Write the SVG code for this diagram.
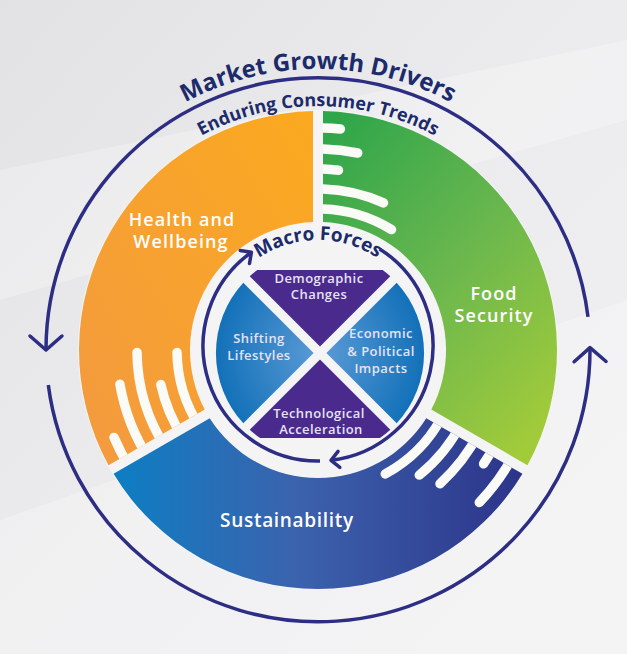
<svg xmlns="http://www.w3.org/2000/svg" width="627" height="654" viewBox="0 0 627 654">
<defs>
<style>
.lbl{font-family:"Open Sans","Noto Sans","DejaVu Sans",sans-serif;font-weight:600;fill:#FFFFFF;text-anchor:middle;font-size:18px;letter-spacing:1.1px}
.q{font-family:"Open Sans","Noto Sans","DejaVu Sans",sans-serif;font-weight:600;fill:#E6E2F4;text-anchor:middle;font-size:13px;letter-spacing:0.45px}
.navy{font-family:"Open Sans","Noto Sans","DejaVu Sans",sans-serif;fill:#1C2B6B}
.arc{fill:none;stroke:#2D2E83;stroke-width:3.5}
.stripe{fill:none;stroke:#FAFAF7;stroke-width:9.5;stroke-linecap:round}
</style>
<linearGradient id="bg" x1="0" y1="0" x2="1" y2="1">
<stop offset="0" stop-color="#E2E2E4"/>
<stop offset="0.5" stop-color="#ECECEE"/>
<stop offset="1" stop-color="#F1F1F2"/>
</linearGradient>
<linearGradient id="gOrange" x1="1" y1="0" x2="0" y2="1">
<stop offset="0" stop-color="#FBA91F"/>
<stop offset="1" stop-color="#F39A40"/>
</linearGradient>
<linearGradient id="gGreen" x1="0.1" y1="0" x2="0.8" y2="1">
<stop offset="0" stop-color="#2FA64A"/>
<stop offset="0.5" stop-color="#6AB74E"/>
<stop offset="1" stop-color="#A2CB3A"/>
</linearGradient>
<linearGradient id="gBlue" x1="0" y1="0" x2="1" y2="0">
<stop offset="0" stop-color="#0D7EC3"/>
<stop offset="0.45" stop-color="#3C62AD"/>
<stop offset="1" stop-color="#2C3489"/>
</linearGradient>
<radialGradient id="gQ" cx="320" cy="353" r="104" gradientUnits="userSpaceOnUse">
<stop offset="0" stop-color="#5C9BD6"/>
<stop offset="1" stop-color="#1371B9"/>
</radialGradient>
<marker id="chevL" viewBox="-20 -20 24 40" refX="0" refY="0" markerWidth="24" markerHeight="40" markerUnits="userSpaceOnUse" orient="auto">
<path d="M-14,-16 L0,0 L-14,16" fill="none" stroke="#2D2E83" stroke-width="3.5" stroke-linecap="round" stroke-linejoin="round"/>
</marker>
<marker id="chevS" viewBox="-12 -12 14 24" refX="0" refY="0" markerWidth="14" markerHeight="24" markerUnits="userSpaceOnUse" orient="auto">
<path d="M-8,-8 L0,0 L-8,8" fill="none" stroke="#2D2E83" stroke-width="3.5" stroke-linecap="round" stroke-linejoin="round"/>
</marker>
<clipPath id="cOrange"><path d="M313,111.05 A239,239 0 0 0 108.57,465.14 L204.73,409.62 A128,128 0 0 1 313,222.1 Z"/></clipPath>
<clipPath id="cGreen"><path d="M323,111.05 A239,239 0 0 1 527.43,465.14 L431.27,409.62 A128,128 0 0 0 323,222.1 Z"/></clipPath>
<clipPath id="cBlue"><path d="M522.43,473.8 A239,239 0 0 1 113.57,473.8 L209.73,418.28 A128,128 0 0 0 426.27,418.28 Z"/></clipPath>
<path id="tpMarket" d="M37,350 A281,281 0 0 1 599,350"/>
<path id="tpEnduring" d="M74,350 A244,244 0 0 1 562,350"/>
<path id="tpMacro" d="M212,346 A106,106 0 0 1 424,346"/>
</defs>

<rect width="627" height="654" fill="url(#bg)"/>
<polygon points="0,170 627,40 627,120 0,300" fill="#FFFFFF" opacity="0.25"/>
<polygon points="0,520 627,300 627,654 0,654" fill="#FFFFFF" opacity="0.25"/>
<circle cx="318" cy="350" r="240" fill="#F4F4F5"/>

<g id="health-and-wellbeing">
<path d="M313,111.05 A239,239 0 0 0 108.57,465.14 L204.73,409.62 A128,128 0 0 1 313,222.1 Z" fill="url(#gOrange)"/>
<g clip-path="url(#cOrange)">
<path class="stripe" d="M131.8,470.9 A222,222 0 0 1 114.0,437.4"/>
<path class="stripe" d="M149.4,459.5 A201,201 0 0 1 119.9,384.2"/>
<path class="stripe" d="M166.2,448.6 A181,181 0 0 1 137.0,352.5"/>
<path class="stripe" d="M183.0,437.7 A161,161 0 0 1 160.8,384.6"/>
<path class="stripe" d="M199.7,426.8 A141,141 0 0 1 177.0,352.5"/>
</g>
<text class="lbl" x="182" y="226">Health and</text>
<text class="lbl" x="181" y="248">Wellbeing</text>
</g>

<g id="food-security">
<path d="M323,111.05 A239,239 0 0 1 527.43,465.14 L431.27,409.62 A128,128 0 0 0 323,222.1 Z" fill="url(#gGreen)"/>
<g clip-path="url(#cGreen)">
<path class="stripe" d="M306.4,128.3 A222,222 0 0 1 340.4,129.1"/>
<path class="stripe" d="M307.5,149.3 A201,201 0 0 1 357.7,153.0"/>
<path class="stripe" d="M308.5,169.25 A181,181 0 0 1 338.5,170.2"/>
<path class="stripe" d="M309.6,189.2 A161,161 0 0 1 383.5,202.9"/>
<path class="stripe" d="M310.6,209.2 A141,141 0 0 1 391.5,229.6"/>
</g>
<text class="lbl" x="494" y="300">Food</text>
<text class="lbl" x="494" y="322">Security</text>
</g>

<g id="sustainability">
<path d="M522.43,473.8 A239,239 0 0 1 113.57,473.8 L209.73,418.28 A128,128 0 0 0 426.27,418.28 Z" fill="url(#gBlue)"/>
<g clip-path="url(#cBlue)">
<path class="stripe" d="M443.6,414.0 A141,141 0 0 1 385.3,473.9"/>
<path class="stripe" d="M461.5,423.1 A161,161 0 0 1 419.3,475.1"/>
<path class="stripe" d="M479.3,432.2 A181,181 0 0 1 440.0,483.7"/>
<path class="stripe" d="M497.1,441.3 A201,201 0 0 1 483.6,463.8"/>
<path class="stripe" d="M515.8,450.8 A222,222 0 0 1 479.3,502.5"/>
</g>
<text class="lbl" x="287" y="527" style="font-size:19px;letter-spacing:0.7px">Sustainability</text>
</g>

<g id="demographic-changes">
<path d="M257.3,270 L382.7,270 A104,104 0 0 1 390.3,276.3 L320,346.6 L249.7,276.3 A104,104 0 0 1 257.3,270 Z" fill="#4A2A8C"/>
<text class="q" x="319" y="283">Demographic</text>
<text class="q" x="319" y="299">Changes</text>
</g>
<g id="shifting-lifestyles">
<path d="M313.6,353 L243.3,282.7 A104,104 0 0 0 243.3,423.3 Z" fill="url(#gQ)"/>
<text class="q" x="259" y="343">Shifting</text>
<text class="q" x="259" y="360">Lifestyles</text>
</g>
<g id="economic-political-impacts">
<path d="M326.4,353 L396.7,282.7 A104,104 0 0 1 396.7,423.3 Z" fill="url(#gQ)"/>
<text class="q" x="381" y="338">Economic</text>
<text class="q" x="381" y="356">&amp; Political</text>
<text class="q" x="381" y="373">Impacts</text>
</g>
<g id="technological-acceleration">
<path d="M320,359.4 L390.3,429.7 A104,104 0 0 1 379.9,438 L260.1,438 A104,104 0 0 1 249.7,429.7 Z" fill="#4A2A8C"/>
<text class="q" x="319" y="418">Technological</text>
<text class="q" x="321" y="434">Acceleration</text>
</g>

<g id="titles">
<text class="navy" style="font-size:24px;font-weight:700"><textPath href="#tpMarket" startOffset="50%" text-anchor="middle">Market Growth Drivers</textPath></text>
<text class="navy" style="font-size:18px;font-weight:700"><textPath href="#tpEnduring" startOffset="50%" text-anchor="middle">Enduring Consumer Trends</textPath></text>
<text class="navy" style="font-size:19px;font-weight:700"><textPath href="#tpMacro" startOffset="50%" text-anchor="middle">Macro Forces</textPath></text>
</g>

<g id="connectors">
<path class="arc" d="M588,316.9 A272,272 0 0 0 46,350" marker-end="url(#chevL)"/>
<path class="arc" d="M48.3,385 A272,272 0 0 0 590,347.6" marker-end="url(#chevL)"/>
<path class="arc" d="M379.6,248.9 A115,115 0 0 1 331,460.3" marker-end="url(#chevS)"/>
<path class="arc" d="M320,461 A115,115 0 0 1 251.4,252.3" marker-end="url(#chevS)"/>
</g>
</svg>
